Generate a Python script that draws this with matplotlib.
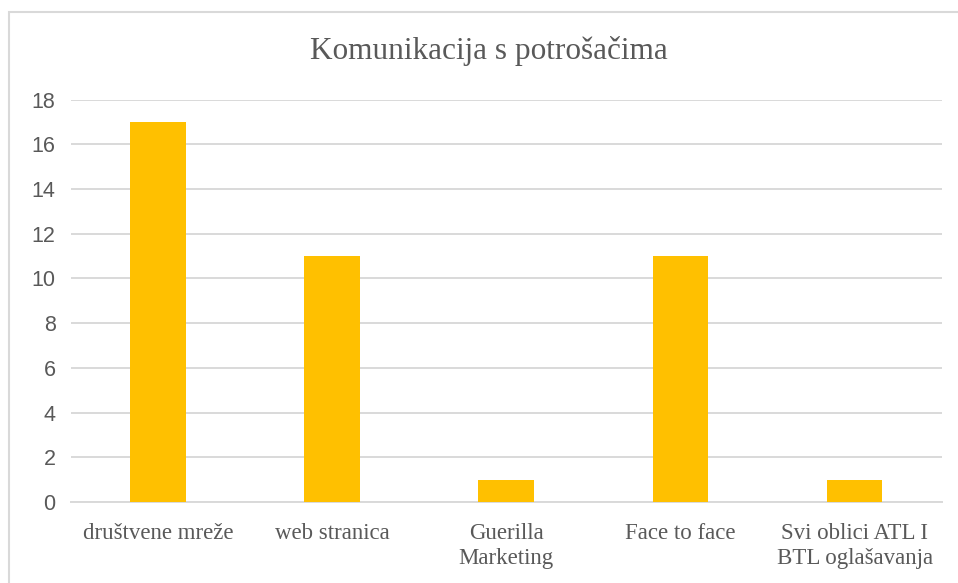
import matplotlib

matplotlib.use("Agg")
import matplotlib.pyplot as plt
from matplotlib.patches import Rectangle

# data
categories = ["društvene mreže", "web stranica", "Guerilla\nMarketing",
              "Face to face", "Svi oblici ATL I\nBTL oglašavanja"]
values = [17, 11, 1, 11, 1]
yticks = list(range(0, 19, 2))

TEXT = "#595959"
GRID = "#d9d9d9"
BAR = "#ffc000"

fig = plt.figure(figsize=(9.58, 5.83), dpi=100)
ax = fig.add_axes([0.074, 0.139, 0.909, 0.690])

x = list(range(len(categories)))
ax.bar(x, values, width=0.32, color=BAR, zorder=3)

ax.set_xlim(-0.5, len(categories) - 0.5)
ax.set_ylim(0, 18)
ax.set_yticks(yticks)
ax.set_xticks(x)
ax.set_xticklabels(categories, fontfamily="Liberation Serif", fontsize=16.5,
                   color=TEXT, linespacing=1.25)
for lab in ax.get_yticklabels():
    lab.set_fontfamily("Liberation Sans")
    lab.set_fontsize(15.5)
    lab.set_color(TEXT)

ax.grid(axis="y", color=GRID, linewidth=1.4, zorder=0)
ax.tick_params(axis="both", length=0)
ax.tick_params(axis="x", pad=15)
ax.tick_params(axis="y", pad=11)
for side in ["top", "right", "left"]:
    ax.spines[side].set_visible(False)
ax.spines["bottom"].set_color(GRID)
ax.spines["bottom"].set_linewidth(1.4)

fig.text(0.510, 0.912, "Komunikacija s potrošačima", ha="center", va="center",
         fontfamily="Liberation Serif", fontsize=22.5, color=TEXT)

# chart frame (only top and left edges are inside the picture)
fig.patches.append(Rectangle((9 / 958, -0.05), 1.1, 1 - 12 / 583 + 0.05,
                             transform=fig.transFigure, fill=False,
                             edgecolor=GRID, linewidth=1.5))

fig.savefig("out.png", dpi=100)
